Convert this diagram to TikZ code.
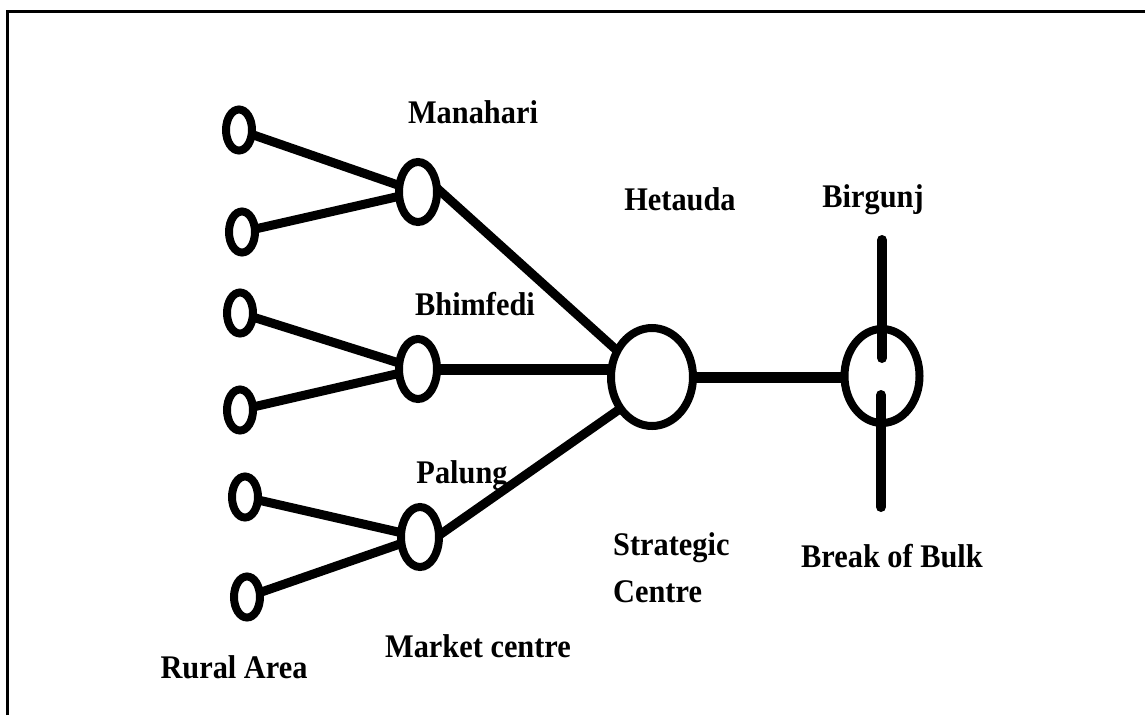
\documentclass[tikz,border=0pt]{standalone}
\usepackage{fontspec}
\setmainfont{Liberation Serif}
\newfontfamily\lblfont[FakeStretch=0.92]{Liberation Serif}
\usetikzlibrary{shapes.geometric}
\begin{document}
\begin{tikzpicture}[x=1pt,y=-1pt,
  ring/.style={ellipse,draw,line width=8pt,inner sep=0pt,outer sep=0pt},
  rural/.style={ring,minimum width=26pt,minimum height=41pt},
  market/.style={ring,minimum width=38pt,minimum height=60pt},
  link/.style={line width=9pt},
  trunk/.style={line width=11pt},
  spoke/.style={line width=10pt,line cap=round},
  lbl/.style={font=\lblfont\fontsize{33}{47}\selectfont\bfseries,inner sep=0pt,anchor=base}]
\useasboundingbox (0,0) rectangle (1145,715);
% frame
\draw[line width=3pt] (7.5,715) -- (7.5,11) -- (1145,11);

% rural settlements
\node[rural] (r1) at (239,130) {};
\node[rural] (r2) at (242,232) {};
\node[rural] (r3) at (240,313) {};
\node[rural] (r4) at (240,410) {};
\node[rural] (r5) at (245,497) {};
\node[rural] (r6) at (247,597) {};

% market centres
\node[market] (m1) at (418,192) {};
\node[market] (m2) at (418,369) {};
\node[market] (m3) at (420,537) {};

% strategic centre and break of bulk point
\node[ring,minimum width=82pt,minimum height=98pt] (h) at (652,377) {};
\node[ring,minimum width=75pt,minimum height=94pt] (b) at (882,376) {};

% rural to market links
\draw[link] (r1) -- (m1);
\draw[link] (r2) -- (m1);
\draw[link] (r3) -- (m2);
\draw[link] (r4) -- (m2);
\draw[link] (r5) -- (m3);
\draw[link] (r6) -- (m3);

% market to strategic centre
\draw[link] (m1.12) -- (h.143);
\draw[trunk] (m2.east) -- (m2.east -| h.west);
\draw[link] (m3.5) -- (h.225);

% strategic centre to Birgunj
\draw[trunk] (h.east) -- (h.east -| b.west);

% through route at Birgunj
\coordinate (nTop) at (882,240);
\coordinate (nIn) at (882,358);
\coordinate (sIn) at (881,395);
\coordinate (sBot) at (881,507);
\draw[spoke] (nTop) -- (nIn);
\draw[spoke] (sIn) -- (sBot);

% labels
\node[lbl] (tMan) at (473,123) {Manahari};
\node[lbl] (tHet) at (680,210) {Hetauda};
\node[lbl] (tBir) at (873,207) {Birgunj};
\node[lbl] (tBhi) at (475,315) {Bhimfedi};
\node[lbl] (tPal) at (462,483) {Palung};
\node[lbl,anchor=base west,align=left] (tStr) at (613,602) {Strategic\\Centre};
\node[lbl] (tBrk) at (892,567) {Break of Bulk};
\node[lbl] (tMkt) at (478,657) {Market centre};
\node[lbl] (tRur) at (234,678) {Rural Area};
\end{tikzpicture}
\end{document}
